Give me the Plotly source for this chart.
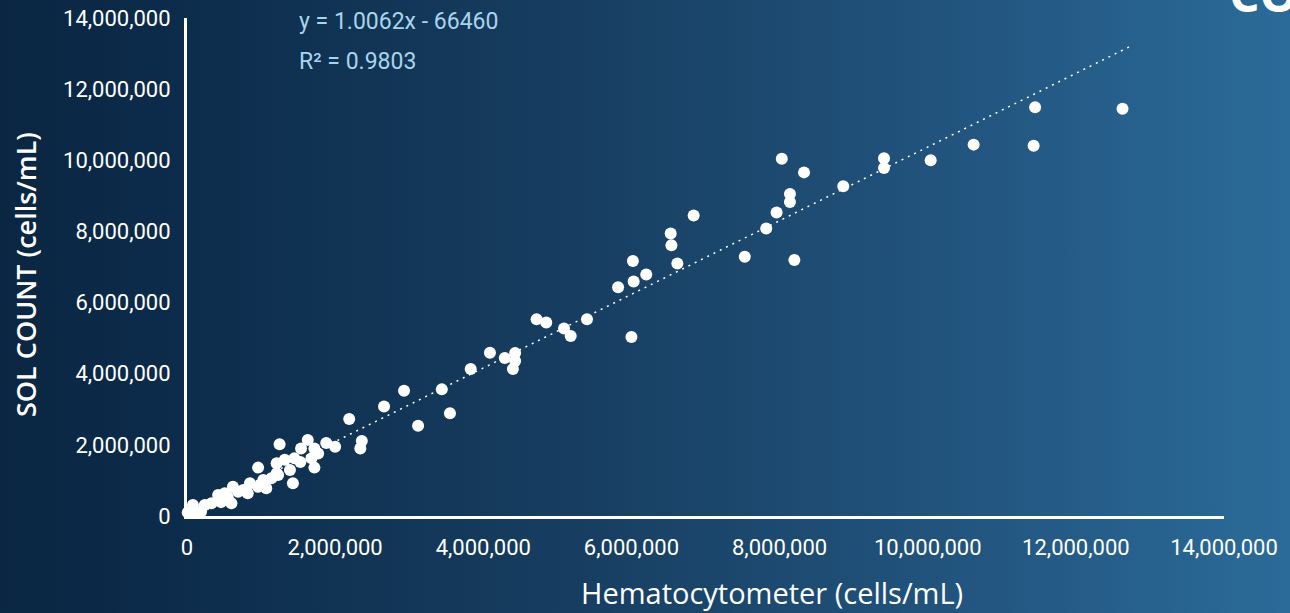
import base64
import plotly.graph_objects as go

# Hematocytometer vs SOL count, cells/mL
hemo = [11.45e6, 12.63e6, 11.43e6, 10.62e6, 10.04e6, 9.41e6, 9.41e6, 8.86e6, 8.03e6, 8.33e6,
        8.14e6, 8.14e6, 7.96e6, 7.82e6, 7.53e6, 8.20e6, 6.84e6, 6.53e6, 6.54e6, 6.62e6,
        6.20e6, 6.02e6, 6.03e6, 5.82e6, 6.00e6, 5.40e6, 5.18e6, 5.09e6, 4.85e6, 4.72e6,
        4.09e6, 4.29e6, 4.43e6, 4.43e6, 4.40e6, 3.83e6, 3.44e6, 2.93e6, 3.55e6, 3.12e6,
        2.66e6, 2.19e6, 2.36e6, 2.34e6, 1.25e6, 1.63e6, 1.88e6, 2.00e6, 1.54e6, 1.72e6,
        1.77e6, 1.68e6, 1.72e6, 1.43e6, 0.96e6, 1.21e6, 1.32e6, 1.45e6, 1.23e6, 1.14e6,
        1.03e6, 0.85e6, 0.62e6, 0.82e6, 0.69e6, 0.51e6, 0.42e6, 0.33e6, 0.46e6, 0.60e6,
        1.07e6, 0.96e6, 1.21e6, 0.08e6, 0.01e6, 0.13e6, 0.19e6, 1.53e6, 1.39e6, 0.76e6,
        0.55e6, 0.24e6]
sol = [11.49e6, 11.45e6, 10.41e6, 10.44e6, 10.00e6, 10.06e6, 9.78e6, 9.27e6, 10.04e6, 9.66e6,
       9.05e6, 8.83e6, 8.53e6, 8.08e6, 7.29e6, 7.20e6, 8.45e6, 7.94e6, 7.61e6, 7.10e6,
       6.79e6, 7.17e6, 6.59e6, 6.43e6, 5.03e6, 5.53e6, 5.06e6, 5.27e6, 5.44e6, 5.53e6,
       4.59e6, 4.44e6, 4.58e6, 4.36e6, 4.13e6, 4.13e6, 3.56e6, 3.52e6, 2.89e6, 2.54e6,
       3.08e6, 2.73e6, 2.11e6, 1.90e6, 2.02e6, 2.14e6, 2.05e6, 1.95e6, 1.90e6, 1.90e6,
       1.76e6, 1.62e6, 1.36e6, 0.92e6, 1.36e6, 1.48e6, 1.58e6, 1.62e6, 1.15e6, 1.06e6,
       1.01e6, 0.92e6, 0.82e6, 0.64e6, 0.68e6, 0.64e6, 0.59e6, 0.36e6, 0.39e6, 0.36e6,
       0.78e6, 0.82e6, 1.20e6, 0.31e6, 0.10e6, 0.10e6, 0.12e6, 1.52e6, 1.29e6, 0.73e6,
       0.53e6, 0.31e6]

# trendline as drawn (ends)
trend_x = [0, 12.77e6]
trend_y = [0.02e6, 13.24e6]
eq_text = 'y = 1.0062x - 66460'
r2_text = 'R² = 0.9803'

tick_vals = [0, 2e6, 4e6, 6e6, 8e6, 10e6, 12e6, 14e6]
tick_text = ['0', '2,000,000', '4,000,000', '6,000,000', '8,000,000',
             '10,000,000', '12,000,000', '14,000,000']

W, H = 1290, 613
L, R, T, B = 187, 66, 18, 97
pw, ph = W - L - R, H - T - B

# verlauf pozadia ako svg obrazok
svg = ('<svg xmlns="http://www.w3.org/2000/svg" width="1290" height="613">'
       '<defs><linearGradient id="g" x1="0" x2="1" y1="0" y2="0">'
       '<stop offset="0" stop-color="#0a2642"/>'
       '<stop offset="0.12" stop-color="#0c2b4a"/>'
       '<stop offset="0.45" stop-color="#173e61"/>'
       '<stop offset="0.75" stop-color="#22557f"/>'
       '<stop offset="1" stop-color="#2b6b99"/>'
       '</linearGradient></defs><rect width="1290" height="613" fill="url(#g)"/></svg>')
bg_src = 'data:image/svg+xml;base64,' + base64.b64encode(svg.encode()).decode()

fig = go.Figure()
fig.add_trace(go.Scatter(x=trend_x, y=trend_y, mode='lines',
                         line=dict(color='white', width=1.5, dash='2px,5px'),
                         hoverinfo='skip', showlegend=False))
fig.add_trace(go.Scatter(x=hemo, y=sol, mode='markers',
                         marker=dict(color='white', size=12, line=dict(width=0)),
                         cliponaxis=False, showlegend=False))

axis_common = dict(range=[0, 14e6], tickvals=tick_vals, ticktext=tick_text,
                   showgrid=False, zeroline=False, showline=True, linecolor='white',
                   linewidth=3, ticks='outside', tickcolor='rgba(0,0,0,0)', automargin=False,
                   tickfont=dict(family='Roboto', size=22, color='white'))

fig.update_layout(
    width=W, height=H,
    margin=dict(l=L, r=R, t=T, b=B),
    paper_bgcolor='#173e61', plot_bgcolor='rgba(0,0,0,0)',
    xaxis=dict(**axis_common, ticklen=10),
    yaxis=dict(**axis_common, ticklen=9),
    images=[dict(source=bg_src, xref='paper', yref='paper', x=-L / pw, y=1 + T / ph,
                 sizex=W / pw, sizey=H / ph, sizing='stretch', xanchor='left',
                 yanchor='top', layer='below')],
)

ann_font = dict(family='Roboto', size=23, color='#a8d4ec')
fig.add_annotation(text=eq_text, xref='paper', yref='paper', x=(297 - L) / pw,
                   y=(H - B - 22) / ph, xanchor='left', yanchor='middle',
                   showarrow=False, font=ann_font)
fig.add_annotation(text=r2_text, xref='paper', yref='paper', x=(297 - L) / pw,
                   y=(H - B - 62) / ph, xanchor='left', yanchor='middle',
                   showarrow=False, font=ann_font)

# nazvy osi
fig.add_annotation(text='Hematocytometer (cells/mL)', xref='paper', yref='paper',
                   x=(772 - L) / pw, y=(H - B - 592) / ph, xanchor='center', yanchor='middle',
                   showarrow=False,
                   font=dict(family='Open Sans', size=29, color='white', weight=500))
fig.add_annotation(text='SOL COUNT (cells/mL)', xref='paper', yref='paper',
                   x=(25 - L) / pw, y=(H - B - 275) / ph, xanchor='center', yanchor='middle',
                   textangle=-90, showarrow=False,
                   font=dict(family='Open Sans', size=27, color='white', weight=600))

# odrezany nadpis vpravo hore
fig.add_annotation(text='CO', xref='paper', yref='paper', x=(1227 - L) / pw,
                   y=(H - B - 28) / ph, xanchor='left', yanchor='bottom',
                   showarrow=False,
                   font=dict(family='Open Sans', size=48, color='white', weight=700))

# bez okraja stranky, aby graf sedel na cele okno
fig.write_html('out.html', config={'displayModeBar': False},
               post_script="document.body.style.margin='0';")
